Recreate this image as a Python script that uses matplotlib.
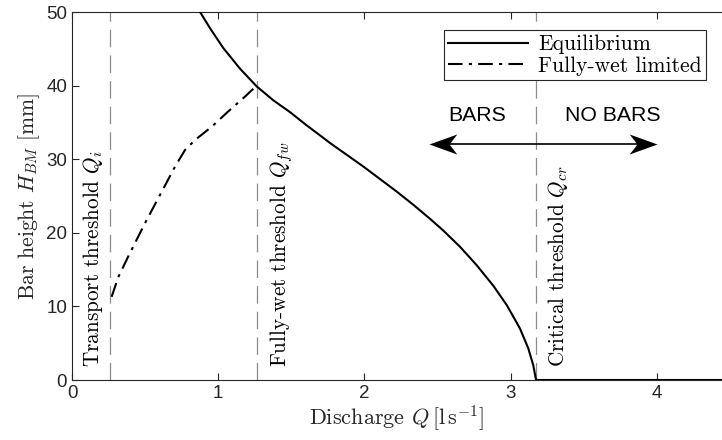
import numpy as np
import matplotlib
matplotlib.use('Agg')
import matplotlib.pyplot as plt
from matplotlib.path import Path

plt.rcParams['mathtext.fontset'] = 'cm'
plt.rcParams['font.family'] = 'Liberation Sans'

# equilibrium bar height
q_eq = [0.876, 0.944, 1.035, 1.149, 1.263, 1.377, 1.491, 1.605, 1.719, 1.765, 1.879,
        1.993, 2.107, 2.221, 2.335, 2.449, 2.540, 2.654, 2.768, 2.882, 2.973, 3.064,
        3.121, 3.155, 3.174, 4.5]
h_eq = [50.0, 47.8, 45.1, 42.3, 39.9, 38.0, 36.4, 34.6, 32.9, 32.2, 30.6,
        29.0, 27.3, 25.6, 23.8, 21.9, 20.3, 18.1, 15.6, 12.8, 10.2, 7.0,
        4.3, 2.0, 0.0, 0.0]

# fully-wet limited
q_fw = [0.271, 0.317, 0.385, 0.499, 0.614, 0.705, 0.773, 0.841, 0.955, 1.069, 1.183, 1.263]
h_fw = [11.3, 14.0, 16.8, 21.3, 25.6, 29.0, 31.25, 32.6, 34.4, 36.5, 38.5, 40.0]

q_i, q_fwt, q_cr = 0.26, 1.263, 3.174

serif = 'cmr10'
ink = '#262626'

fig = plt.figure(figsize=(7.22, 4.40), dpi=100)
ax = fig.add_axes([72/722, 1-380/440, 1-72/722, (380-12)/440])

for q in [q_i, q_fwt, q_cr]:
    ax.axvline(q, color='#8c8c8c', lw=0.9, ls=(0, (14, 6.5)), zorder=1)

ax.plot(q_eq, h_eq, 'k-', lw=1.5, label='Equilibrium', zorder=3)
ax.plot(q_fw, h_fw, 'k', ls=(0, (7, 3, 1.5, 3)), lw=1.5, label='Fully-wet limited', zorder=3)

ax.text(q_i - 0.035, 1.8, r'Transport threshold $Q_i$', rotation=90, ha='right', va='bottom',
        fontfamily=serif, fontsize=15.3)
ax.text(q_fwt + 0.08, 1.8, r'Fully-wet threshold $Q_{fw}$', rotation=90, ha='left', va='bottom',
        fontfamily=serif, fontsize=15.3)
ax.text(q_cr + 0.065, 1.8, r'Critical threshold $Q_{cr}$', rotation=90, ha='left', va='bottom',
        fontfamily=serif, fontsize=15.3)

# double arrow with concave heads
y_arr = 32
ax.plot([2.48, 3.96], [y_arr, y_arr], 'k-', lw=1.2)
head_r = Path([(0, 0), (-1, 0.36), (-0.72, 0), (-1, -0.36), (0, 0)],
              [Path.MOVETO, Path.LINETO, Path.LINETO, Path.LINETO, Path.CLOSEPOLY])
head_l = Path([(0, 0), (1, 0.36), (0.72, 0), (1, -0.36), (0, 0)],
              [Path.MOVETO, Path.LINETO, Path.LINETO, Path.LINETO, Path.CLOSEPOLY])
ax.plot([4.0], [y_arr], marker=head_r, ms=40, color='k', mew=0)
ax.plot([2.44], [y_arr], marker=head_l, ms=40, color='k', mew=0)
ax.text(2.77, 36, 'BARS', ha='center', va='center', fontsize=15.3)
ax.text(3.70, 36, 'NO BARS', ha='center', va='center', fontsize=15.3)

ax.set_xlim(0, 650/146.2)
ax.set_ylim(0, 50)
ax.set_xticks([0, 1, 2, 3, 4])
ax.set_yticks([0, 10, 20, 30, 40, 50])
ax.tick_params(direction='in', top=True, right=False, labelsize=13.5, colors=ink, length=5)
for s in ['left', 'bottom', 'top']:
    ax.spines[s].set_color(ink)
ax.spines['right'].set_visible(False)

ax.set_xlabel(r'Discharge $Q\,[\mathrm{l\,s^{-1}}]$', fontfamily=serif, fontsize=16, color=ink, labelpad=1)
ax.set_ylabel(r'Bar height $H_{BM}$ [mm]', fontfamily=serif, fontsize=15.5, color=ink, labelpad=3)

leg = ax.legend(loc='upper right', bbox_to_anchor=(0.976, 0.95), prop={'family': serif, 'size': 15.5},
                handlelength=3.7, fancybox=False, edgecolor=ink, framealpha=1,
                borderpad=0.2, labelspacing=0.1, handletextpad=0.5, borderaxespad=0)
leg.get_frame().set_linewidth(0.8)

fig.savefig('out.png', dpi=100)
